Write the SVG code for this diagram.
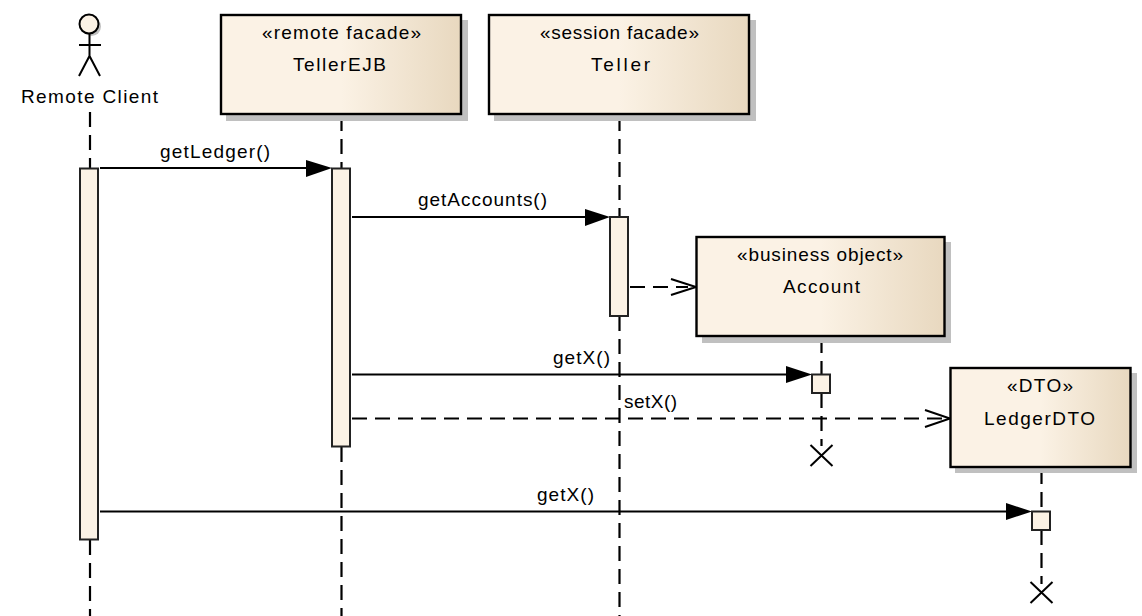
<svg xmlns="http://www.w3.org/2000/svg" width="1142" height="616" viewBox="0 0 1142 616">
<style>
text{font-family:"Liberation Sans",Arial,sans-serif;font-size:19px;fill:#000;text-anchor:start}
.box{stroke:#000;stroke-width:2.4}
.sh{fill:#c0c0c0}
.act{fill:#fbf2e5;stroke:#222;stroke-width:2}
.life{stroke:#000;stroke-width:2.2;stroke-dasharray:15 8;fill:none}
.msg{stroke:#000;stroke-width:2;fill:none}
.ret{stroke:#000;stroke-width:2;stroke-dasharray:15 8;fill:none}
.open{stroke:#000;stroke-width:2;fill:none}
.head{fill:#000}
.x{stroke:#000;stroke-width:2;fill:none}
</style>
<defs>
<linearGradient id="g" x1="0" x2="1" y1="0" y2="0">
<stop offset="0" stop-color="#fbf2e5"/><stop offset="0.5" stop-color="#fbf2e5"/><stop offset="1" stop-color="#e8d8bf"/>
</linearGradient>
</defs>
<g id="connectors">
<path class="life" d="M90 112V168M90 540V616"/>
<path class="life" d="M341.500 116V168M341.500 447V616"/>
<path class="life" d="M619.500 116V217M619.500 316V616"/>
<path class="life" d="M821.500 338V375M821.500 393V446"/>
<path class="life" d="M1041.500 469V511M1041.500 530V584"/>
<path class="x" d="M810.500 445L832.500 466M832.500 445L810.500 466"/>
<path class="x" d="M1030.500 582L1052.500 603M1052.500 582L1030.500 603"/>
<path class="msg" d="M100 168H308"/><polygon class="head" points="306,160 332,168 306,177"/>
<path class="msg" d="M352 217H586"/><polygon class="head" points="585,209 610,217 585,226"/>
<path class="ret" d="M630 287H688"/><path class="open" d="M671 279L696 287L671 295"/>
<path class="msg" d="M352 374.500H788"/><polygon class="head" points="786,366 812,374.500 786,383"/>
<path class="ret" d="M352 418.500H944"/><path class="open" d="M925 410L950 418.500L925 427"/>
<path class="msg" d="M100 511.500H1008"/><polygon class="head" points="1006,503 1032,511.500 1006,520"/>
</g>
<g id="actor">
<circle cx="91.500" cy="26.500" r="9.500" fill="#c0c0c0"/>
<circle cx="89" cy="24" r="9.500" fill="#fbf2e5" stroke="#000" stroke-width="2"/>
<path d="M89.500 34V56M79 45H101M79 76L89.500 56L100 76" fill="none" stroke="#000" stroke-width="2"/>
<text x="21" y="103" textLength="137">Remote Client</text>
</g>
<g id="tellerejb">
<rect class="sh" x="226" y="20" width="242" height="101"/>
<rect class="box" x="221" y="15" width="240" height="99" fill="url(#g)"/>
<text x="262" y="39" textLength="159">«remote facade»</text><text x="293" y="71" textLength="93">TellerEJB</text>
</g>
<g id="teller">
<rect class="sh" x="494" y="20" width="262" height="101"/>
<rect class="box" x="489" y="15" width="260" height="99" fill="url(#g)"/>
<text x="540" y="39" textLength="159">«session facade»</text><text x="591" y="71" textLength="59">Teller</text>
</g>
<g id="account">
<rect class="sh" x="702" y="242" width="249" height="101"/>
<rect class="box" x="696.500" y="237" width="248" height="99" fill="url(#g)"/>
<text x="737" y="261" textLength="166">«business object»</text><text x="783" y="293" textLength="77">Account</text>
</g>
<g id="ledgerdto">
<rect class="sh" x="955" y="373" width="182" height="100"/>
<rect class="box" x="950.500" y="368" width="180" height="99" fill="url(#g)"/>
<text x="1007" y="392" textLength="66">«DTO»</text><text x="984" y="425" textLength="111">LedgerDTO</text>
</g>
<g id="activations">
<rect class="act" x="80" y="168.500" width="18" height="371"/>
<rect class="act" x="332" y="168.500" width="18" height="278"/>
<rect class="act" x="610" y="217" width="18" height="99"/>
<rect class="act" x="812" y="374.500" width="18" height="18.500"/>
<rect class="act" x="1032" y="511.500" width="18" height="18.500"/>
</g>
<g id="labels">
<text x="160" y="158" textLength="110">getLedger()</text>
<text x="418" y="206" textLength="129">getAccounts()</text>
<text x="553" y="364" textLength="57">getX()</text>
<text x="624" y="408" textLength="53">setX()</text>
<text x="537" y="501" textLength="57">getX()</text>
</g>
</svg>
